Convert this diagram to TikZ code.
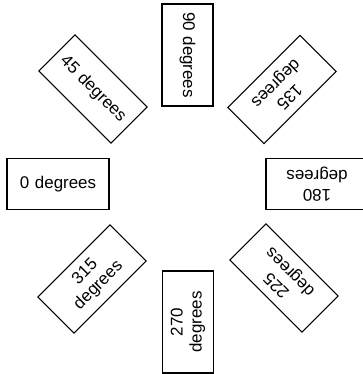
\documentclass[tikz,border=0pt]{standalone}
\usepackage{fontspec}
\setmainfont{Liberation Sans}
\begin{document}
\begin{tikzpicture}[x=1bp,y=1bp,
 degbox/.style={draw,line width=1.1bp,rotate=-#1,minimum width=102bp,minimum height=51bp,
   text width=92bp,inner xsep=5bp,align=center,font=\fontsize{17}{19}\selectfont}]
 \useasboundingbox (0,0) rectangle (363,374);
 \foreach \a/\px/\py in {0/58/190,45/93/285,90/187.5/319,135/282/284.5,
   180/317/190,225/284/96,270/188/52,315/92/95}
   {\node[degbox=\a] (box\a) at (\px,\py) {\a{} degrees};}
\end{tikzpicture}
\end{document}
